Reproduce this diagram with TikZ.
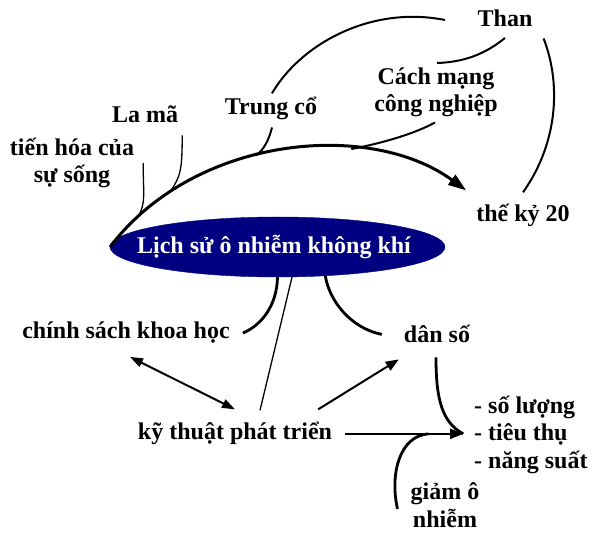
\documentclass[tikz,border=0pt]{standalone}
\usepackage{fontspec}
\setmainfont{Liberation Serif}
\usetikzlibrary{shapes.geometric,arrows.meta}
\definecolor{navy}{RGB}{0,0,128}

\tikzset{
  lbl/.style={font=\fontsize{24}{27.5}\selectfont\bfseries, inner sep=0pt, anchor=base},
  thin line/.style={line width=1.3pt},
  link/.style={line width=2pt},
  heavy/.style={line width=2.8pt},
  tip/.style={-{Triangle[length=13pt,width=10pt]}},
}

\begin{document}
\begin{tikzpicture}[x=1pt,y=-1pt]
  \useasboundingbox (0,0) rectangle (603,537);

  % Draw the central ellipse
  \node[ellipse, fill=navy, draw=navy, minimum width=335pt, minimum height=60pt,
        inner sep=0pt, outer sep=0pt] (lsu) at (277.5,247) {};
  \node[lbl, text=white] (lsutext) at (274,254) {Lịch sử ô nhiễm không khí};

  % Labels (multi-line ones sit on the baseline of their last line)
  \node[lbl] (than) at (505,27) {Than};
  \node[lbl, align=center] (cmcn) at (436,112) {Cách mạng\\công nghiệp};
  \node[lbl] (trung) at (271,115) {Trung cổ};
  \node[lbl] (lama) at (145,123) {La mã};
  \node[lbl, align=center] (tienhoa) at (72,183) {tiến hóa của\\sự sống};
  \node[lbl] (theky) at (523,222) {thế kỷ 20};
  \node[lbl] (chinhsach) at (126,339) {chính sách khoa học};
  \node[lbl] (danso) at (437,343) {dân số};
  \node[lbl] (kythuat) at (235,440) {kỹ thuật phát triển};
  \node[lbl, align=left, anchor=base west] (chiso) at (474,468) {- số lượng\\- tiêu thụ\\- năng suất};
  \node[lbl, align=center] (giam) at (445,527) {giảm ô\\nhiễm};

  % Free ends round Than
  \coordinate (thanL) at (445,20);
  \coordinate (thanB) at (505,38);
  \coordinate (cmTop) at (437,63);

  % Main stem from the ellipse to the 20th century
  \coordinate (stemtip) at ([shift={(-10,-14)}]theky.north west);
  \draw[line width=3pt, -{Triangle[length=18pt,width=12pt]}]
    (lsu.west) .. controls (195,135) and (370,120) .. (stemtip)
    coordinate[pos=0.1] (jTien) coordinate[pos=0.2] (jLama)
    coordinate[pos=0.43] (jTrung) coordinate[pos=0.67] (jCm);

  % Branches joining the stem
  \draw[thin line] ([xshift=9pt]tienhoa.east) .. controls +(0,30) and +(8,-12) .. (jTien);
  \draw[thin line] ([shift={(4,12)}]lama.south east) .. controls +(0,35) and +(10,-15) .. (jLama);
  \draw[link] ([shift={(1,7)}]trung.south) .. controls +(-3,12) and +(8,-6) .. (jTrung);
  \draw[link] ([shift={(-1,5)}]cmcn.south) .. controls +(-20,11) and +(32,-6) .. (jCm);

  % Links round Than
  \draw[link] ([shift={(1,-4)}]trung.north) .. controls (300,45) and (370,5) .. (thanL);
  \draw[link] (cmTop) .. controls +(33,-1) and +(-15,12) .. (thanB);
  \draw[link] ([shift={(11,11)}]than.south east) .. controls (560,80) and (560,140) .. ([yshift=12pt]theky.north);

  % Links below the ellipse
  \draw[heavy] (lsu.south) .. controls (277,305) and (262,325) .. ([xshift=13pt]chinhsach.east);
  \draw[thin line] (lsu.-64) -- ([shift={(25,-12)}]kythuat.north);
  \draw[heavy] (lsu.-31) .. controls (329,300) and (350,328) .. ([xshift=-22pt]danso.west);

  % Arrows between the lower labels
  \draw[link, {Triangle[length=13pt,width=9pt]}-{Triangle[length=13pt,width=9pt]}]
    ([shift={(4,13)}]chinhsach.south) -- ([shift={(0,-13)}]kythuat.north);
  \draw[link, tip] ([shift={(-14,-13)}]kythuat.north east) -- ([shift={(-5,16)}]danso.south west);
  \coordinate (hub) at ([xshift=131pt]kythuat.east);
  \draw[link, tip] ([xshift=13pt]kythuat.east) -- (hub);
  \draw[heavy] ([shift={(-1,14)}]danso.south) .. controls +(0,40) and +(-22,-12) .. (hub);
  \draw[heavy] ([shift={(-13,4)}]giam.west) .. controls +(-8,-36) and +(-28,2) .. ([xshift=-35pt]hub);

\end{tikzpicture}
\end{document}
